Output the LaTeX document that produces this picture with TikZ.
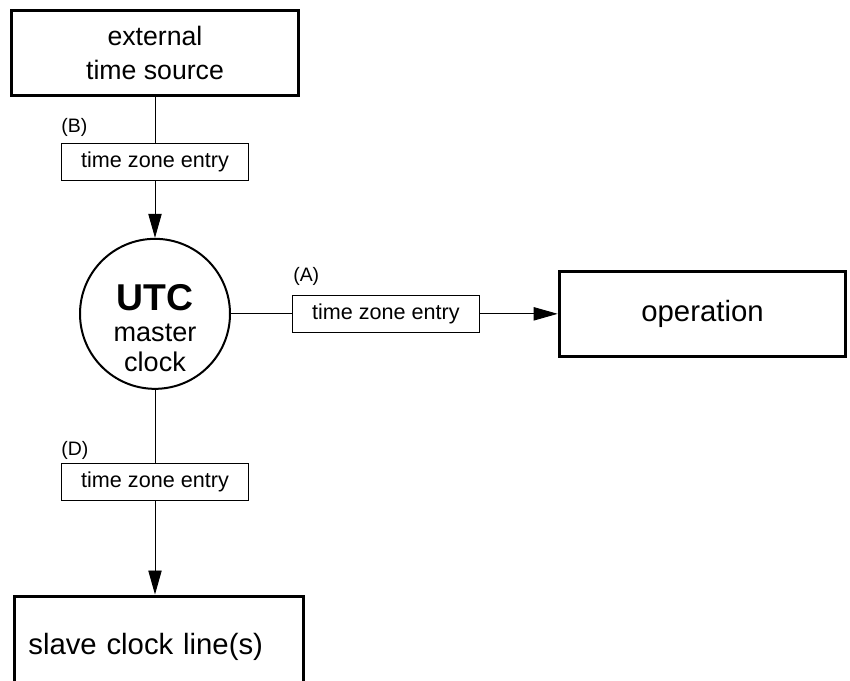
\documentclass[tikz,border=0pt]{standalone}
\usepackage{fontspec}
\setmainfont{Liberation Sans}
\usetikzlibrary{positioning,arrows.meta}

\begin{document}
\begin{tikzpicture}[
    x=0.75pt, y=-0.75pt,
    node distance=40pt,
    bigbox/.style={
        rectangle,
        draw,
        line width=2.25pt,
        minimum width=215pt,
        minimum height=64pt,
        align=center,
        font=\fontsize{22}{25.5}\selectfont
    },
    entry/.style={
        rectangle,
        draw,
        line width=0.75pt,
        minimum width=140pt,
        minimum height=27.5pt,
        font=\fontsize{16.2}{19}\selectfont
    },
    tag/.style={inner sep=0pt, font=\fontsize{14.6}{17}\selectfont},
    master/.style={
        circle,
        draw,
        line width=1.5pt,
        minimum size=112.5pt,
        inner sep=0pt,
        align=center,
        font=\fontsize{20.3}{23}\selectfont
    },
    link/.style={line width=0.7pt},
    arrow/.style={link, -{Triangle[length=18pt,width=10pt]}}
]
\useasboundingbox (0,0) rectangle (850,681);
\clip (0,0) rectangle (850,681);

% Nodes
\node[bigbox, font=\fontsize{20}{25.5}\selectfont] (source) at (155,53) {external\\time source};

\node[entry, below=34.5pt of source] (tzeb) {time zone entry};

\node[master, below=42.75pt of tzeb] (clock) {\rule{0pt}{41pt}{\fontsize{28}{30}\selectfont\bfseries UTC}\\master\\clock};

\node[entry, right=45.75pt of clock] (tzea) {time zone entry};

\node[bigbox, right=58.5pt of tzea] (operation) {operation};

\node[entry, below=54.75pt of clock] (tzed) {time zone entry};

\node[bigbox, below=70.5pt of tzed, xshift=3pt, minimum height=76.5pt,
      text width=196pt, inner xsep=10.5pt, align=left] (slave) {slave clock line(s)};

% Labels
\node[tag, above right=4.5pt and 0pt of tzeb.north west] (labb) {(B)};
\node[tag, above right=6.75pt and 0.75pt of tzea.north west] (laba) {(A)};
\node[tag, above right=2.25pt and 0pt of tzed.north west] (labd) {(D)};

% Arrows
\draw[link] (source) -- (tzeb);
\draw[arrow] (tzeb) -- (clock);
\draw[link] (clock) -- (tzea);
\draw[arrow] (tzea) -- (operation);
\draw[link] (clock) -- (tzed);
\draw[arrow] (tzed.south) -- (tzed.south |- slave.north);

\end{tikzpicture}
\end{document}
